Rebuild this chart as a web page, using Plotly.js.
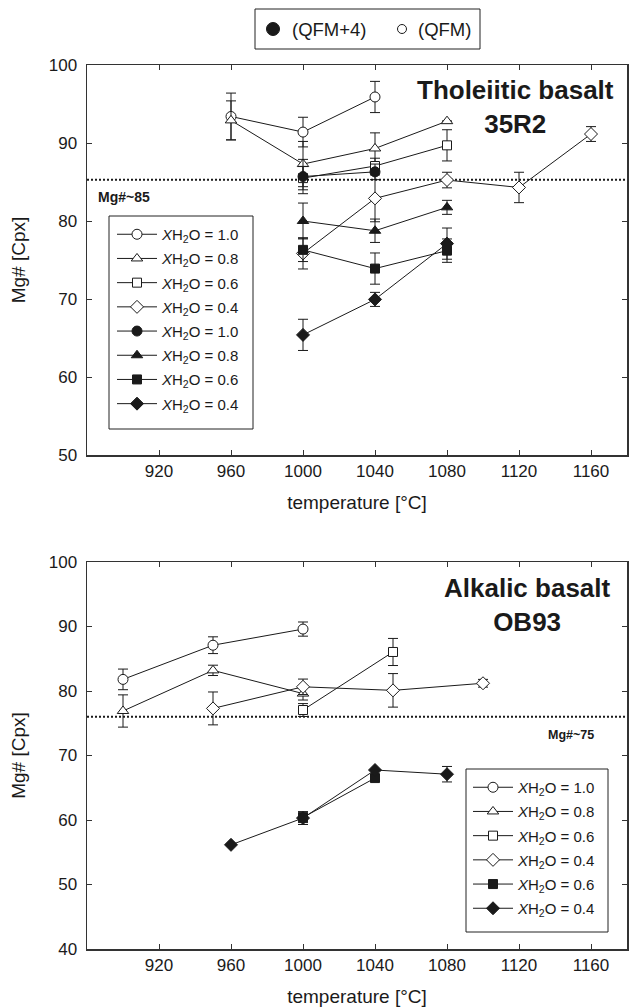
<!DOCTYPE html>
<html>
<head>
<meta charset="utf-8">
<script src="https://cdn.plot.ly/plotly-3.0.1.min.js"></script>
<style>html,body{margin:0;padding:0;background:#fff;}#chart{width:630px;height:1008px;}</style>
</head>
<body>
<div id="chart"></div>
<script>
// ---------- shared ticks ----------
const xTicks = [920, 960, 1000, 1040, 1080, 1120, 1160];
const yTicksTop = [50, 60, 70, 80, 90, 100];
const yTicksBot = [40, 50, 60, 70, 80, 90, 100];

// ---------- Tholeiitic basalt 35R2 (top) ----------
// open symbols = QFM, filled symbols = QFM+4
const thOpen10X = [960, 1000, 1040];
const thOpen10Y = [93.4, 91.4, 95.9];
const thOpen10E = [3.0, 1.9, 2.0];

const thOpen08X = [960, 1000, 1040, 1080];
const thOpen08Y = [92.9, 87.3, 89.3, 92.8];
const thOpen08E = [2.5, 2.9, 2.0, 0];

const thOpen06X = [1000, 1040, 1080];
const thOpen06Y = [85.5, 87.05, 89.7];
const thOpen06E = [1.5, 1.0, 2.0];

const thOpen04X = [1000, 1040, 1080, 1120, 1160];
const thOpen04Y = [75.85, 82.9, 85.25, 84.3, 91.15];
const thOpen04E = [2.0, 3.0, 1.0, 1.95, 0.95];

const thFill10X = [1000, 1040];
const thFill10Y = [85.7, 86.3];
const thFill10E = [2.2, 1.0];

const thFill08X = [1000, 1040, 1080];
const thFill08Y = [80.0, 78.75, 81.75];
const thFill08E = [2.3, 1.5, 0.9];

const thFill06X = [1000, 1040, 1080];
const thFill06Y = [76.3, 73.9, 76.2];
const thFill06E = [1.5, 2.0, 1.5];

const thFill04X = [1000, 1040, 1080];
const thFill04Y = [65.4, 69.95, 77.1];
const thFill04E = [2.0, 0.9, 2.0];

const thRefLevel = 85.3;

// ---------- Alkalic basalt OB93 (bottom) ----------
const abOpen10X = [900, 950, 1000];
const abOpen10Y = [81.8, 87.1, 89.6];
const abOpen10E = [1.6, 1.3, 1.1];

const abOpen08X = [900, 950, 1000];
const abOpen08Y = [76.9, 83.2, 79.6];
const abOpen08E = [2.5, 0.8, 1.0];

const abOpen06X = [1000, 1050];
const abOpen06Y = [77.05, 86.05];
const abOpen06E = [1.0, 2.1];

const abOpen04X = [950, 1000, 1050, 1100];
const abOpen04Y = [77.3, 80.65, 80.1, 81.2];
const abOpen04E = [2.55, 1.2, 2.6, 0.6];

const abFill06X = [1000, 1040];
const abFill06Y = [60.4, 66.5];
const abFill06E = [0.8, 0];

const abFill04X = [960, 1000, 1040, 1080];
const abFill04Y = [56.15, 60.3, 67.75, 67.1];
const abFill04E = [0, 1.0, 0, 1.2];

const abRefLevel = 76.0;

// ---------- labels ----------
const leg = v => '<i>X</i>H<sub>2</sub>O = ' + v;
const FONT = 'Liberation Sans, Arial, Helvetica, sans-serif';
const INK = '#1a1a1a';

let gid = 0;
function series(x, y, e, sym, filled, name, xa, ya, legendId, size) {
  gid += 1;
  return {
    type: 'scatter', mode: 'lines+markers', x: x, y: y, name: name,
    xaxis: xa, yaxis: ya, legend: legendId, legendgroup: 'g' + gid,
    line: {color: INK, width: 1},
    marker: {symbol: sym, size: size, color: filled ? INK : '#ffffff', line: {color: INK, width: 1}},
    error_y: {type: 'data', array: e, visible: true, color: INK, thickness: 1, width: 5}
  };
}

const traces = [
  series(thOpen10X, thOpen10Y, thOpen10E, 'circle', false, leg('1.0'), 'x', 'y', 'legend', 10),
  series(thOpen08X, thOpen08Y, thOpen08E, 'triangle-up', false, leg('0.8'), 'x', 'y', 'legend', 10),
  series(thOpen06X, thOpen06Y, thOpen06E, 'square', false, leg('0.6'), 'x', 'y', 'legend', 9),
  series(thOpen04X, thOpen04Y, thOpen04E, 'diamond', false, leg('0.4'), 'x', 'y', 'legend', 10),
  series(thFill10X, thFill10Y, thFill10E, 'circle', true, leg('1.0'), 'x', 'y', 'legend', 10),
  series(thFill08X, thFill08Y, thFill08E, 'triangle-up', true, leg('0.8'), 'x', 'y', 'legend', 10),
  series(thFill06X, thFill06Y, thFill06E, 'square', true, leg('0.6'), 'x', 'y', 'legend', 9),
  series(thFill04X, thFill04Y, thFill04E, 'diamond', true, leg('0.4'), 'x', 'y', 'legend', 10),

  series(abOpen10X, abOpen10Y, abOpen10E, 'circle', false, leg('1.0'), 'x2', 'y2', 'legend2', 10),
  series(abOpen08X, abOpen08Y, abOpen08E, 'triangle-up', false, leg('0.8'), 'x2', 'y2', 'legend2', 10),
  series(abOpen06X, abOpen06Y, abOpen06E, 'square', false, leg('0.6'), 'x2', 'y2', 'legend2', 9),
  series(abOpen04X, abOpen04Y, abOpen04E, 'diamond', false, leg('0.4'), 'x2', 'y2', 'legend2', 10),
  series(abFill06X, abFill06Y, abFill06E, 'square', true, leg('0.6'), 'x2', 'y2', 'legend2', 9),
  series(abFill04X, abFill04Y, abFill04E, 'diamond', true, leg('0.4'), 'x2', 'y2', 'legend2', 10)
];

// pixel helpers for paper coordinates (plot area: x 87..627, full height)
const W = 630, H = 1008, ML = 87, MR = 3;
const px = p => (p - ML) / (W - ML - MR);
const py = p => 1 - p / H;

function xAxis(anchor) {
  return {
    anchor: anchor, domain: [0, 1], range: [880, 1180], tickvals: xTicks,
    ticks: 'inside', ticklen: 5, tickwidth: 1, tickcolor: '#333', mirror: 'allticks',
    showline: true, linecolor: '#333', linewidth: 1.5, showgrid: false, zeroline: false,
    tickfont: {size: 17, color: INK}, automargin: false,
    title: {text: 'temperature [°C]', font: {size: 19, color: INK}, standoff: 16}
  };
}
function yAxis(anchor, domain, range, ticks) {
  return {
    anchor: anchor, domain: domain, range: range, tickvals: ticks,
    ticks: 'inside', ticklen: 5, tickwidth: 1, tickcolor: '#333', mirror: 'allticks',
    showline: true, linecolor: '#333', linewidth: 1.5, showgrid: false, zeroline: false,
    tickfont: {size: 17, color: INK}, automargin: false, ticklabelstandoff: 5,
    title: {text: 'Mg# [Cpx]', font: {size: 19, color: INK}, standoff: 18}
  };
}
function yOver(over, anchor, range, ticks) {
  return {
    overlaying: over, anchor: anchor, side: 'left', range: range, tickvals: ticks,
    ticks: 'outside', ticklen: 5, tickwidth: 1, tickcolor: '#333',
    showticklabels: false, showline: false, showgrid: false, zeroline: false
  };
}

const domTop = [py(455), py(65)];
const domBot = [py(949), py(562)];

const legendBase = {
  bgcolor: 'rgba(0,0,0,0)', borderwidth: 0,
  font: {family: FONT, size: 15, color: INK}, xanchor: 'left', yanchor: 'top',
  traceorder: 'grouped', tracegroupgap: 1.7, itemwidth: 40
};

function box(x0, y0, x1, y1) {
  return {type: 'rect', xref: 'paper', yref: 'paper', x0: px(x0), x1: px(x1), y0: py(y1), y1: py(y0),
          line: {color: '#222', width: 1}, fillcolor: 'rgba(0,0,0,0)', layer: 'above'};
}

const layout = {
  width: W, height: H,
  margin: {l: ML, r: MR, t: 0, b: 0},
  paper_bgcolor: '#ffffff', plot_bgcolor: '#ffffff',
  font: {family: FONT, color: INK},
  showlegend: true,
  xaxis: xAxis('y'),
  yaxis: yAxis('x', domTop, [50, 100], yTicksTop),
  xaxis2: xAxis('y2'),
  yaxis2: yAxis('x2', domBot, [40, 100], yTicksBot),
  yaxis3: yOver('y', 'x', [50, 100], yTicksTop),
  yaxis4: yOver('y2', 'x2', [40, 100], yTicksBot),
  legend: Object.assign({}, legendBase, {x: px(112), y: py(218)}),
  legend2: Object.assign({}, legendBase, {x: px(468), y: py(771)}),
  shapes: [
    {type: 'line', xref: 'x domain', yref: 'y', x0: 0, x1: 1, y0: thRefLevel, y1: thRefLevel,
     line: {color: INK, width: 2, dash: '2px,2px'}, layer: 'below'},
    {type: 'line', xref: 'x2 domain', yref: 'y2', x0: 0, x1: 1, y0: abRefLevel, y1: abRefLevel,
     line: {color: INK, width: 2, dash: '2px,2px'}, layer: 'below'},
    // legend frames
    box(109, 216, 253, 429),
    box(466, 769, 608, 932),
    // oxygen fugacity key box
    box(255, 9, 480, 49),
    {type: 'circle', xref: 'paper', yref: 'paper', xsizemode: 'pixel', ysizemode: 'pixel',
     xanchor: px(273), yanchor: py(29), x0: -6.5, x1: 6.5, y0: -6.5, y1: 6.5,
     line: {color: INK, width: 1}, fillcolor: INK},
    {type: 'circle', xref: 'paper', yref: 'paper', xsizemode: 'pixel', ysizemode: 'pixel',
     xanchor: px(402), yanchor: py(29), x0: -4.5, x1: 4.5, y0: -4.5, y1: 4.5,
     line: {color: INK, width: 1}, fillcolor: '#ffffff'}
  ],
  annotations: [
    {text: '(QFM+4)', xref: 'paper', yref: 'paper', x: px(290), y: py(29), xanchor: 'left', yanchor: 'middle',
     showarrow: false, font: {size: 18.5, color: INK}},
    {text: '(QFM)', xref: 'paper', yref: 'paper', x: px(416), y: py(29), xanchor: 'left', yanchor: 'middle',
     showarrow: false, font: {size: 18.5, color: INK}},
    {text: 'Tholeiitic basalt<br>35R2', xref: 'paper', yref: 'paper', x: px(515), y: py(107), xanchor: 'center', yanchor: 'middle',
     align: 'center', showarrow: false, font: {size: 26, color: INK, weight: 'bold'}},
    {text: 'Alkalic basalt<br>OB93', xref: 'paper', yref: 'paper', x: px(527), y: py(605), xanchor: 'center', yanchor: 'middle',
     align: 'center', showarrow: false, font: {size: 26, color: INK, weight: 'bold'}},
    {text: 'Mg#~85', xref: 'paper', yref: 'y', x: px(96), y: 83.1, xanchor: 'left', yanchor: 'middle',
     showarrow: false, font: {size: 14, color: INK, weight: 'bold'}},
    {text: 'Mg#~75', xref: 'paper', yref: 'y2', x: px(596), y: 73.2, xanchor: 'right', yanchor: 'middle',
     showarrow: false, font: {size: 12.5, color: INK, weight: 'bold'}}
  ]
};

Plotly.newPlot('chart', traces, layout, {displayModeBar: false, staticPlot: true});
</script>
</body>
</html>
